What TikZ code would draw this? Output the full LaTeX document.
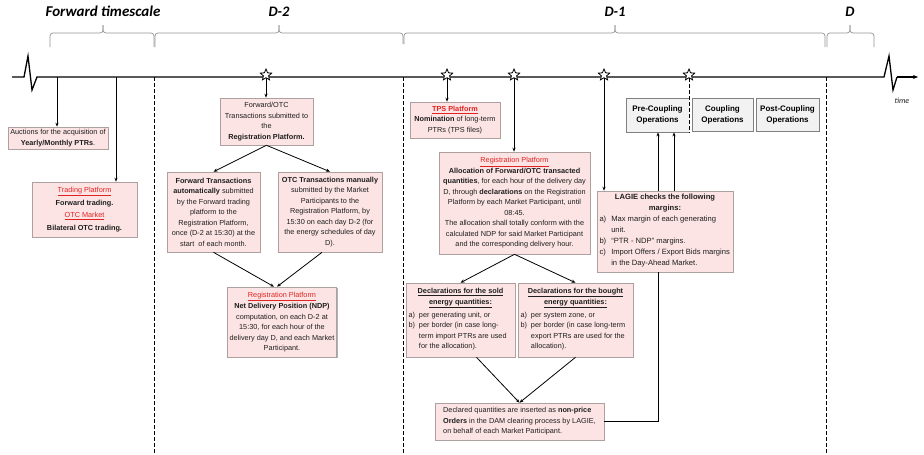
\documentclass[tikz,border=0pt]{standalone}
\usepackage{fontspec}
\setmainfont{Liberation Sans}
\newfontfamily\titlefont{Carlito}
\usetikzlibrary{shapes.geometric,shadows,arrows.meta}
\definecolor{boxfill}{RGB}{252,228,228}
\definecolor{boxline}{RGB}{175,160,160}
\definecolor{redtxt}{RGB}{225,35,35}
\definecolor{brcol}{RGB}{150,150,150}
\definecolor{cpfill}{RGB}{242,242,242}
\definecolor{txt}{RGB}{30,30,30}
\newcommand{\rh}[1]{\textcolor{redtxt}{\underline{#1}}}
\newcommand{\bu}[1]{\textbf{\underline{#1}}}
\begin{document}
\begin{tikzpicture}[x=1pt,y=-1pt,
  pbox/.style={draw=boxline, fill=boxfill, line width=0.6pt, inner sep=2pt, align=center,
    text=txt, font=\fontsize{7.3}{10.5}\selectfont,
    drop shadow={shadow xshift=1.2pt,shadow yshift=-1.2pt,fill=black,opacity=0.3}},
  cbox/.style={draw=gray, fill=cpfill, line width=0.8pt, inner sep=1pt, align=center,
    font=\bfseries\fontsize{8}{11}\selectfont, minimum height=33pt,
    drop shadow={shadow xshift=1pt,shadow yshift=-1pt,fill=black,opacity=0.25}},
  sz/.style 2 args={minimum width=#1, minimum height=#2},
  arr/.style={-{Stealth[length=4pt,width=3.2pt]}, line width=0.8pt},
  conn/.style={line width=0.8pt},
  dline/.style={line width=1pt, dash pattern=on 3.5pt off 2.5pt},
  brace/.style={draw=brcol, line width=0.7pt, rounded corners=3pt},
  starnode/.style={star, star points=5, star point ratio=2.2, minimum size=12pt, inner sep=0pt,
    draw, fill=white, line width=0.8pt},
  lbl/.style={font=\titlefont\bfseries\itshape\fontsize{15}{18}\selectfont}
]
\useasboundingbox (0,0) rectangle (924,455);
\fill[white] (0,0) rectangle (924,455);

% top labels
\node[lbl] (lfw) at (103,11) {Forward timescale};
\node[lbl, font=\titlefont\bfseries\itshape\fontsize{14.5}{17}\selectfont] (ld2) at (279,12) {D-2};
\node[lbl, font=\titlefont\bfseries\itshape\fontsize{14.5}{17}\selectfont] (ld1) at (615,12) {D-1};
\node[lbl, font=\titlefont\bfseries\itshape\fontsize{14.5}{17}\selectfont] (ld) at (850,12) {D};

% braces
\draw[brace] (50,47) -- (50,33) -- (103,33) -- (103,25);
\draw[brace] (103,25) -- (103,33) -- (154,33) -- (154,47);
\draw[brace] (155,47) -- (155,33) -- (279,33) -- (279,25);
\draw[brace] (279,25) -- (279,33) -- (403,33) -- (403,44);
\draw[brace] (404,44) -- (404,33) -- (615,33) -- (615,25);
\draw[brace] (615,25) -- (615,33) -- (825,33) -- (825,47);
\draw[brace] (827,47) -- (827,33) -- (850,33) -- (850,25);
\draw[brace] (850,25) -- (850,33) -- (874,33) -- (874,47);

% dashed day separators
\draw[dline] (154,77) -- (154,455);
\draw[dline] (403,77) -- (403,455);
\draw[dline] (826,77) -- (826,455);

% timeline
\draw[line width=1.3pt] (12,77) -- (24,77) -- (28,56) -- (32,90) -- (37,77) -- (884,77) -- (889,56) -- (893,90) -- (897,77);
\draw[line width=1.3pt, -{Stealth[length=5pt,width=4pt]}] (897,77) -- (918,77);
\node[font=\titlefont\itshape\fontsize{8}{9}\selectfont, text=txt] (ltime) at (902,101) {time};

\coordinate (t1) at (57,77);
\coordinate (t2) at (116,77);

% boxes
\node[pbox, sz={100pt}{22pt}] (A) at (58,138) {Auctions for the acquisition of\\\textbf{Yearly/Monthly PTRs}.};
\node[pbox, sz={105pt}{55pt}] (B) at (84.5,209.5) {\rh{Trading Platform}\\[2pt]\textbf{Forward trading.}\\[2pt]\rh{OTC Market}\\[2pt]\textbf{Bilateral OTC trading.}};
\node[pbox, sz={93pt}{47pt}] (C) at (266.5,121.5) {Forward/OTC\\Transactions submitted to\\the\\\textbf{Registration Platform.}};
\node[pbox, sz={93pt}{80pt}] (D) at (213.5,212) {\textbf{Forward Transactions}\\\textbf{automatically} submitted\\by the Forward trading\\platform to the\\Registration Platform,\\once (D-2 at 15:30) at the\\start\ \ of each month.};
\node[pbox, sz={104pt}{80pt}] (E) at (330,212) {\textbf{OTC Transactions manually}\\submitted by the Market\\Participants to the\\Registration Platform, by\\15:30 on each day D-2 (for\\the energy schedules of day\\D).};
\node[pbox, sz={100pt}{70pt}] (F) at (282,322) {\rh{Registration Platform}\\[1pt]\textbf{Net Delivery Position (NDP)}\\computation, on each D-2 at\\15:30, for each hour of the\\delivery day D, and each Market\\Participant.};
\node[pbox, sz={90pt}{36pt}] (G) at (455,120) {\textbf{\rh{TPS Platform}}\\\textbf{Nomination} of long-term\\PTRs (TPS files)};
\node[pbox, sz={151pt}{102pt}] (H) at (514.5,203) {\rh{Registration Platform}\\\textbf{Allocation of Forward/OTC transacted}\\\textbf{quantities}, for each hour of the delivery day\\D, through \textbf{declarations} on the Registration\\Platform by each Market Participant, until\\08:45.\\The allocation shall totally conform with the\\calculated NDP for said Market Participant\\and the corresponding delivery hour.};
\node[pbox, sz={109pt}{74pt}] (I) at (460.5,320) {\bu{Declarations for the sold}\\\bu{energy quantities:}\\[1pt]
  \makebox[104pt][l]{\begin{tabular}{@{}l@{\hspace{4pt}}l@{}}a) & per generating unit, or\\ b) & per border (in case long-\\ & term import PTRs are used\\ & for the allocation).\end{tabular}}};
\node[pbox, sz={115pt}{74pt}] (J) at (575.5,320) {\bu{Declarations for the bought}\\\bu{energy quantities:}\\[1pt]
  \makebox[110pt][l]{\begin{tabular}{@{}l@{\hspace{4pt}}l@{}}a) & per system zone, or\\ b) & per border (in case long-term\\ & export PTRs are used for the\\ & allocation).\end{tabular}}};
\node[pbox, sz={169pt}{37pt}, align=left] (K) at (519.5,421.5) {Declared quantities are inserted as \textbf{non-price}\\\textbf{Orders} in the DAM clearing process by LAGIE,\\on behalf of each Market Participant.};
\node[pbox, sz={136pt}{81pt}, font=\fontsize{7.6}{11}\selectfont] (L) at (665,231.5) {\textbf{LAGIE checks the following}\\\textbf{margins:}\\
  \makebox[131pt][l]{\begin{tabular}{@{}l@{\hspace{5pt}}l@{}}a) & Max margin of each generating\\ & unit.\\ b) & “PTR - NDP” margins.\\ c) & Import Offers / Export Bids margins\\ & in the Day-Ahead Market.\end{tabular}}};

\node[cbox, minimum width=63pt, minimum height=34pt] (M) at (657.5,115) {Pre-Coupling\\Operations};
\node[cbox, minimum width=61pt] (N) at (722.5,114.5) {Coupling\\Operations};
\node[cbox, minimum width=63pt] (O) at (787.5,114.5) {Post-Coupling\\Operations};

% stars
\node[starnode] (s1) at (266,75) {};
\node[starnode] (s2) at (447,75) {};
\node[starnode] (s3) at (514,75) {};
\node[starnode] (s4) at (604,75) {};
\node[starnode] (s5) at (689,75) {};

% connectors
\draw[arr] (t1) -- (t1 |- A.north);
\draw[arr] (t2) -- (t2 |- B.north);
\draw[arr] (s1.south) -- (s1.south |- C.north);
\draw[arr] (s2.south) -- (s2.south |- G.north);
\draw[arr] (s3.south) -- (s3.south |- H.north);
\draw[arr] (s4.south) -- (s4.south |- L.north);
\draw[white, line width=1.2pt] (M.north east) -- (M.south east);
\draw[dline] (s5.south) -- (s5.south |- M.south);

\draw[arr] (C.south) -- (D.north);
\draw[arr] (C.south) -- (E.north);
\draw[arr] (D.south) -- ([xshift=-8pt]F.north);
\draw[arr] ([xshift=-8pt]E.south) -- ([xshift=-5pt]F.north);
\draw[arr] (H.south) -- (I.north);
\draw[arr] (H.south) -- (J.north);
\draw[arr] ([xshift=16pt]I.south) -- (K.north);
\draw[arr] (J.south) -- (K.north);
\draw[conn] (K.east) -| ([xshift=-7pt]L.south);
\draw[arr] ([xshift=-7pt]L.north) -- ([xshift=-7pt]L.north |- M.south);
\draw[arr] ([xshift=9pt]L.north) -- ([xshift=9pt]L.north |- M.south);
\end{tikzpicture}
\end{document}
